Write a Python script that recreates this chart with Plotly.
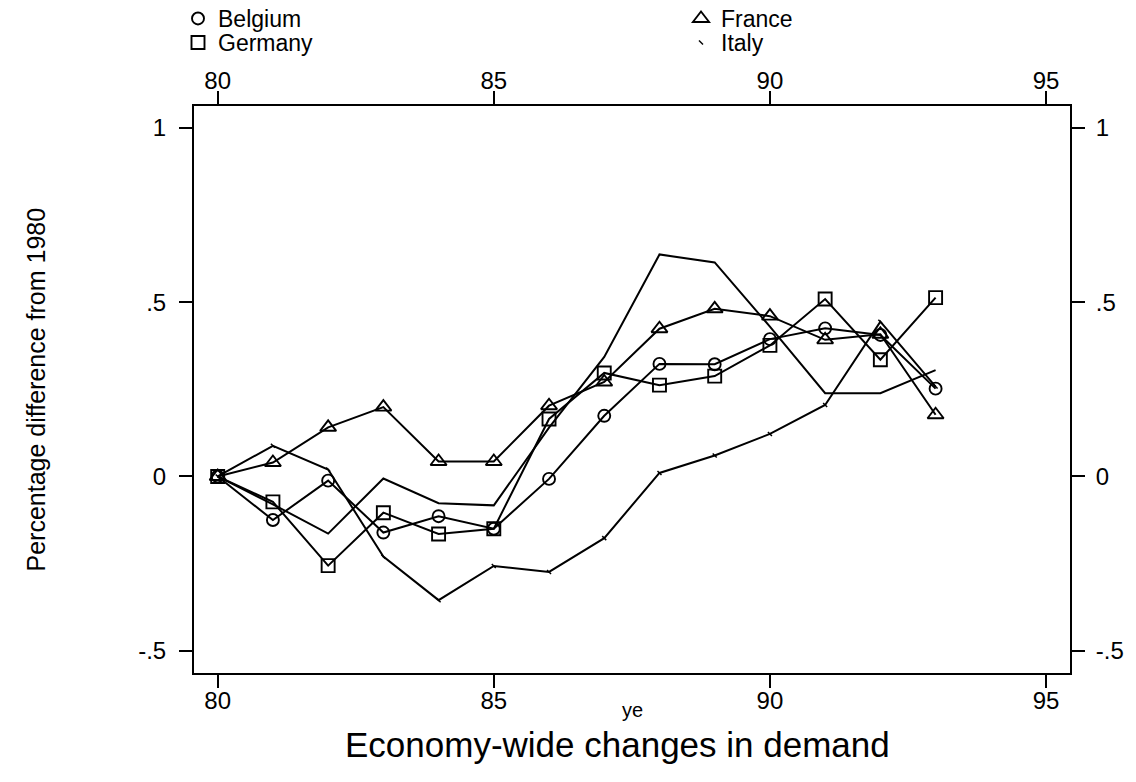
import plotly.graph_objects as go

# Years (two-digit) and percentage differences relative to 1980
years = [80, 81, 82, 83, 84, 85, 86, 87, 88, 89, 90, 91, 92, 93]

belgium = [0, -0.125, -0.012, -0.161, -0.114, -0.150, -0.007, 0.174, 0.323, 0.322, 0.394, 0.425, 0.406, 0.252]
france = [0, 0.040, 0.141, 0.199, 0.043, 0.043, 0.203, 0.271, 0.424, 0.481, 0.460, 0.392, 0.408, 0.177]
germany = [0, -0.073, -0.256, -0.104, -0.165, -0.150, 0.165, 0.297, 0.262, 0.288, 0.376, 0.509, 0.335, 0.513]
italy = [0, 0.088, 0.020, -0.230, -0.355, -0.257, -0.274, -0.177, 0.010, 0.060, 0.122, 0.205, 0.444, 0.258]
other = [0, -0.080, -0.164, -0.006, -0.077, -0.083, 0.140, 0.343, 0.637, 0.614, 0.430, 0.239, 0.239, 0.305]

x_ticks = [80, 85, 90, 95]
y_ticks = [-0.5, 0, 0.5, 1]
y_tick_text = ["-.5", "0", ".5", "1"]

FONT = "Liberation Sans, Arial, Helvetica, sans-serif"
BLACK = "#000000"
W, H = 1136, 782
M_L, M_R, M_T, M_B = 194, 66, 106, 109
plot_w = W - M_L - M_R
plot_h = H - M_T - M_B

line_style = dict(color=BLACK, width=2)
markers = {
    "Belgium": dict(symbol="circle-open", size=12, color=BLACK, line=dict(width=1.9)),
    "France": dict(symbol="triangle-up-open", size=14, color=BLACK, line=dict(width=1.9)),
    "Germany": dict(symbol="square-open", size=13, color=BLACK, line=dict(width=1.9)),
    "Italy": dict(symbol="line-nw", size=4, color=BLACK, line=dict(width=1.5, color=BLACK)),
}
series = [("Belgium", belgium), ("France", france), ("Germany", germany), ("Italy", italy)]

fig = go.Figure()

for name, values in series:
    fig.add_trace(go.Scatter(
        x=years, y=values, name=name, mode="lines+markers", line=line_style,
        marker=markers[name], showlegend=False,
    ))
fig.add_trace(go.Scatter(
    x=years, y=other, name="Other", mode="lines", line=line_style, showlegend=False,
))

# Marker-only key entries, one legend box per entry (two rows, two columns)
key_slots = {
    "Belgium": ("legend", 178, -3),
    "France": ("legend2", 681, -3),
    "Germany": ("legend3", 178, 21),
    "Italy": ("legend4", 681, 21),
}
for name, _ in series:
    fig.add_trace(go.Scatter(
        x=[None], y=[None], name=name, mode="markers", marker=markers[name],
        legend=key_slots[name][0], showlegend=True,
    ))

# Dummy traces keep the mirrored top/right axes attached to their own subplots
fig.add_trace(go.Scatter(x=[], y=[], xaxis="x2", yaxis="y", showlegend=False, hoverinfo="skip"))
fig.add_trace(go.Scatter(x=[], y=[], xaxis="x", yaxis="y2", showlegend=False, hoverinfo="skip"))

x_range = [79.571, 95.434]
y_range = [-0.564, 1.063]

axis_common = dict(
    showgrid=False, zeroline=False, showline=True, linecolor=BLACK, linewidth=2,
    ticks="outside", ticklen=13, tickwidth=2, tickcolor=BLACK,
    tickfont=dict(family=FONT, size=24, color=BLACK),
)

legend_common = dict(
    orientation="v", xanchor="left", yanchor="top", xref="paper", yref="paper",
    font=dict(family=FONT, size=23, color=BLACK),
    bgcolor="rgba(0,0,0,0)", itemwidth=30,
)
legends = {}
for name, (key, px, top) in key_slots.items():
    legends[key] = dict(legend_common, x=(px - M_L) / plot_w, y=(H - M_B - top) / plot_h)

fig.update_layout(
    width=W, height=H,
    margin=dict(l=M_L, r=M_R, t=M_T, b=M_B, autoexpand=False),
    paper_bgcolor="white", plot_bgcolor="white",
    font=dict(family=FONT, color=BLACK),
    xaxis=dict(axis_common, range=x_range, tickvals=x_ticks, mirror=True, ticklabelstandoff=-8),
    xaxis2=dict(
        axis_common, range=x_range, tickvals=x_ticks, overlaying="x", side="top",
        anchor="y", matches="x", ticklabelstandoff=-8,
    ),
    yaxis=dict(
        axis_common, range=y_range, tickvals=y_ticks, ticktext=y_tick_text, mirror=True,
        ticklabelstandoff=8,
    ),
    yaxis2=dict(
        axis_common, range=y_range, tickvals=y_ticks, ticktext=y_tick_text,
        overlaying="y", side="right", anchor="x", matches="y", ticklabelstandoff=6,
    ),
    showlegend=True,
    **legends,
)

# Axis titles and the caption under the plot
fig.add_annotation(
    text="ye", xref="paper", yref="paper", x=0.5, y=(H - M_B - 710) / plot_h,
    xanchor="center", yanchor="middle", showarrow=False,
    font=dict(family=FONT, size=20, color=BLACK),
)
fig.add_annotation(
    text="Economy-wide changes in demand", xref="paper", yref="paper",
    x=(617 - M_L) / plot_w, y=(H - M_B - 744) / plot_h,
    xanchor="center", yanchor="middle", showarrow=False,
    font=dict(family=FONT, size=35, color=BLACK),
)
fig.add_annotation(
    text="Percentage difference from 1980", xref="paper", yref="paper",
    x=(35 - M_L) / plot_w, y=0.5, textangle=-90,
    xanchor="center", yanchor="middle", showarrow=False,
    font=dict(family=FONT, size=25, color=BLACK),
)

fig.write_html("out.html")
